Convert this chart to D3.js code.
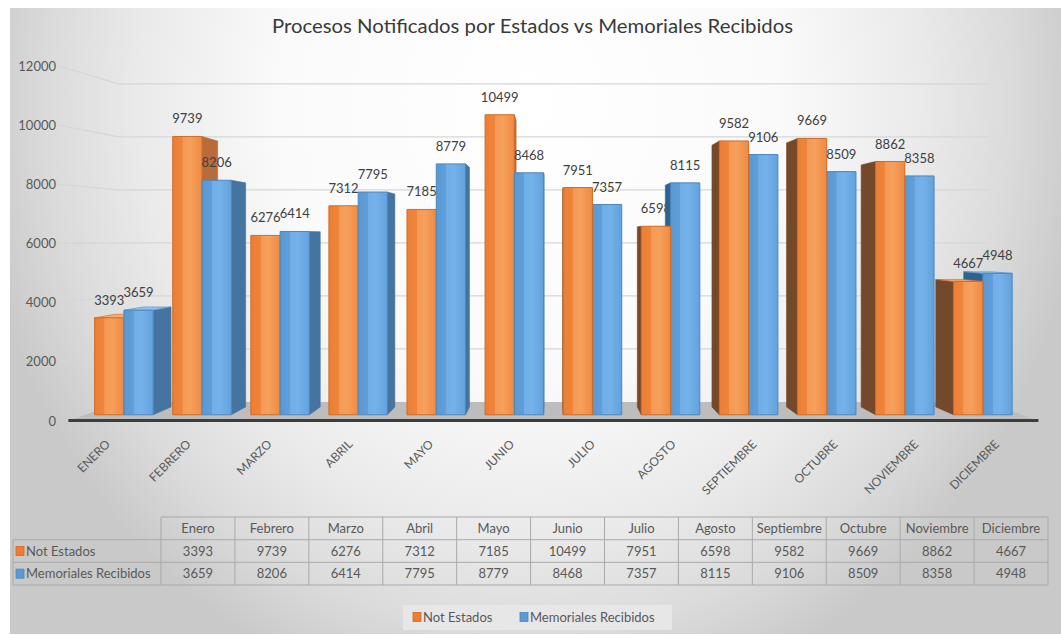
<!DOCTYPE html>
<html>
<head>
<meta charset="utf-8">
<script src="https://cdn.jsdelivr.net/npm/d3@7"></script>
<style>
  html, body { margin: 0; padding: 0; background: #ffffff; }
  svg { display: block; }
  text { font-family: Lato, "Open Sans", sans-serif; }
</style>
</head>
<body>
<svg id="chart" width="1061" height="635"></svg>
<script>
// ---------- data ----------
const months = ["Enero","Febrero","Marzo","Abril","Mayo","Junio","Julio","Agosto","Septiembre","Octubre","Noviembre","Diciembre"];
const axisLabels = ["ENERO","FEBRERO","MARZO","ABRIL","MAYO","JUNIO","JULIO","AGOSTO","SEPTIEMBRE","OCTUBRE","NOVIEMBRE","DICIEMBRE"];
const seriesNames = ["Not Estados","Memoriales Recibidos"];
const notEstados = [3393, 9739, 6276, 7312, 7185, 10499, 7951, 6598, 9582, 9669, 8862, 4667];
const memoriales = [3659, 8206, 6414, 7795, 8779, 8468, 7357, 8115, 9106, 8509, 8358, 4948];
const yTicks = [0, 2000, 4000, 6000, 8000, 10000, 12000];
const titleText = "Procesos Notificados por Estados vs Memoriales Recibidos";

const seriesValues = [notEstados, memoriales];
const colors = {
  front: ["url(#gOrange)", "url(#gBlue)"],
  stroke: ["#d36a22", "#4a86c2"],
  rightSide: ["#b86c3c", "#44749f"],
  leftSide: ["#74482a", "#30628f"],
  top: ["#f6ad72", "#94c4ee"],
  key: ["#ed7d31", "#5b9bd5"]
};

const svg = d3.select("#chart");
const defs = svg.append("defs");

// background gradient (elliptical radial)
const bg = defs.append("radialGradient").attr("id", "gBg")
  .attr("gradientUnits", "userSpaceOnUse")
  .attr("cx", 0).attr("cy", 0).attr("r", 1)
  .attr("gradientTransform", "translate(530,102) scale(560,620)");
[[0, "#ffffff"], [0.45, "#fafafa"], [0.7, "#eaeaea"], [0.86, "#dbdbdb"], [1, "#c9c9c9"]]
  .forEach(([o, c]) => bg.append("stop").attr("offset", o).attr("stop-color", c));

function barGrad(id, stops) {
  const g = defs.append("linearGradient").attr("id", id)
    .attr("x1", 0).attr("x2", 1).attr("y1", 0).attr("y2", 0);
  stops.forEach(([o, c]) => g.append("stop").attr("offset", o).attr("stop-color", c));
}
barGrad("gOrange", [[0, "#ec7e35"], [0.33, "#ef853b"], [0.34, "#f39a55"], [0.6, "#f5a05c"], [1, "#ef8a43"]]);
barGrad("gBlue", [[0, "#5a98d2"], [0.33, "#609fd9"], [0.34, "#71ade6"], [0.6, "#75b1ea"], [1, "#62a2dc"]]);

svg.append("rect").attr("x", 10).attr("y", 8).attr("width", 1060).attr("height", 626)
  .attr("fill", "url(#gBg)");

// ---------- scales & projection ----------
const x = d3.scaleBand().domain(months).range([68.4, 1038.4]).paddingInner(0.25).paddingOuter(0.125);
const xs = d3.scaleBand().domain(seriesNames).range([0, x.bandwidth()]);
const y = d3.scaleLinear().domain([0, 12000]).range([421, 66]);

const VX = 553.4, VY = 238;
const S_FRONT = 1, S_BACK = 0.896, B_FRONT = 0.966, B_BACK = 0.923;
const proj = (px, py, s) => [VX + (px - VX) * s, VY + (py - VY) * s];
const poly = pts => pts.map(p => p.join(",")).join(" ");

const [X0, X1] = x.range();

// ---------- grid ----------
const grid = svg.append("g");
yTicks.filter(t => t > 0).forEach(t => {
  const a = proj(X0 - 10, y(t), S_FRONT), b = proj(X0, y(t), S_BACK), c = proj(X1, y(t), S_BACK);
  grid.append("polyline").attr("points", poly([a, b, c]))
    .attr("fill", "none").attr("stroke", "#d6d6d6").attr("stroke-width", 1.3);
});

// floor
svg.append("polygon")
  .attr("points", poly([proj(X0, y(0), S_FRONT), proj(X1, y(0), S_FRONT), proj(X1, y(0), S_BACK), proj(X0, y(0), S_BACK)]))
  .attr("fill", "#bdbdbd");
svg.append("line")
  .attr("x1", X0).attr("x2", X1).attr("y1", y(0) - 0.5).attr("y2", y(0) - 0.5)
  .attr("stroke", "#3d3d3d").attr("stroke-width", 3);

// y labels
svg.append("g").selectAll("text").data(yTicks).join("text")
  .attr("x", 56).attr("y", d => y(d)).attr("dy", "0.35em")
  .attr("text-anchor", "end").attr("font-size", 13).attr("fill", "#595959")
  .text(d => d);

// x labels
svg.append("g").selectAll("text").data(months).join("text")
  .attr("transform", (d) => `translate(${x(d) + x.bandwidth() / 2 + 2},445) rotate(-45)`)
  .attr("text-anchor", "end").attr("font-size", 12).attr("fill", "#595959")
  .text((d, i) => axisLabels[i]);

// ---------- bars ----------
function labelPos(si, i) {
  const m = months[i];
  const x0 = x(m) + xs(seriesNames[si]);
  const p = proj(x0 + xs.bandwidth() / 2, y(seriesValues[si][i]), B_FRONT);
  return [p[0], p[1] - 13];
}
function drawLabel(g, si, i) {
  const [lx, ly] = labelPos(si, i);
  g.append("text").attr("x", lx).attr("y", ly).attr("text-anchor", "middle")
    .attr("font-size", 13).attr("fill", "#404040").text(seriesValues[si][i]);
}

const labelsBack = svg.append("g");
months.forEach((m, i) => drawLabel(labelsBack, 0, i));

const barsG = svg.append("g");
function drawBar(si, i) {
  const m = months[i];
  const v = seriesValues[si][i];
  const x0 = x(m) + xs(seriesNames[si]);
  const x1 = x0 + xs.bandwidth();
  const yt = y(v), yb = y(0);
  const g = barsG.append("g");
  if (x1 < VX) {
    g.append("polygon").attr("points", poly([proj(x1, yt, B_FRONT), proj(x1, yt, B_BACK), proj(x1, yb, B_BACK), proj(x1, yb, B_FRONT)]))
      .attr("fill", colors.rightSide[si]).attr("stroke", colors.rightSide[si]).attr("stroke-width", 0.6);
  } else if (x0 > VX) {
    g.append("polygon").attr("points", poly([proj(x0, yt, B_FRONT), proj(x0, yt, B_BACK), proj(x0, yb, B_BACK), proj(x0, yb, B_FRONT)]))
      .attr("fill", colors.leftSide[si]).attr("stroke", colors.leftSide[si]).attr("stroke-width", 0.6);
  }
  if (yt > VY) {
    g.append("polygon").attr("points", poly([proj(x0, yt, B_FRONT), proj(x1, yt, B_FRONT), proj(x1, yt, B_BACK), proj(x0, yt, B_BACK)]))
      .attr("fill", colors.top[si]).attr("stroke", colors.stroke[si]).attr("stroke-width", 0.6);
  }
  g.append("polygon").attr("points", poly([proj(x0, yt, B_FRONT), proj(x1, yt, B_FRONT), proj(x1, yb, B_FRONT), proj(x0, yb, B_FRONT)]))
    .attr("fill", colors.front[si]).attr("stroke", colors.stroke[si]).attr("stroke-width", 1);
}
months.forEach((m, i) => {
  const center = x(m) + x.bandwidth() / 2;
  const order = center < VX ? [0, 1] : [1, 0];
  order.forEach(si => drawBar(si, i));
});

const labelsFront = svg.append("g");
months.forEach((m, i) => drawLabel(labelsFront, 1, i));

// ---------- title ----------
svg.append("text").attr("x", 532.5).attr("y", 33).attr("text-anchor", "middle")
  .attr("font-size", 19.5).attr("fill", "#3a3a3a")
  .attr("textLength", 521).attr("lengthAdjust", "spacingAndGlyphs")
  .text(titleText);

// ---------- data table ----------
const tX0 = 13, tLabelR = 161, tX1 = 1048;
const colW = (tX1 - tLabelR) / months.length;
const rowY = [517, 539.7, 562.3, 585];
const tbl = svg.append("g");
const bc = "#a9a9a9";
tbl.append("line").attr("x1", tLabelR).attr("x2", tX1).attr("y1", rowY[0]).attr("y2", rowY[0]).attr("stroke", bc);
[1, 2, 3].forEach(r => tbl.append("line").attr("x1", tX0).attr("x2", tX1).attr("y1", rowY[r]).attr("y2", rowY[r]).attr("stroke", bc));
tbl.append("line").attr("x1", tX0).attr("x2", tX0).attr("y1", rowY[1]).attr("y2", rowY[3]).attr("stroke", bc);
d3.range(months.length + 1).forEach(k => {
  const xx = tLabelR + k * colW;
  tbl.append("line").attr("x1", xx).attr("x2", xx).attr("y1", rowY[0]).attr("y2", rowY[3]).attr("stroke", bc);
});
months.forEach((m, k) => {
  const cx = tLabelR + (k + 0.5) * colW;
  tbl.append("text").attr("x", cx).attr("y", (rowY[0] + rowY[1]) / 2).attr("dy", "0.35em")
    .attr("text-anchor", "middle").attr("font-size", 13).attr("fill", "#595959").text(m);
  seriesValues.forEach((vals, si) => {
    tbl.append("text").attr("x", cx).attr("y", (rowY[si + 1] + rowY[si + 2]) / 2).attr("dy", "0.35em")
      .attr("text-anchor", "middle").attr("font-size", 13).attr("fill", "#595959").text(vals[k]);
  });
});
seriesNames.forEach((n, si) => {
  const cy = (rowY[si + 1] + rowY[si + 2]) / 2;
  tbl.append("rect").attr("x", 16).attr("y", cy - 4.5).attr("width", 8).attr("height", 9)
    .attr("fill", colors.key[si]).attr("stroke", colors.stroke[si]).attr("stroke-width", 0.8);
  tbl.append("text").attr("x", 26).attr("y", cy).attr("dy", "0.35em")
    .attr("font-size", 13).attr("fill", "#595959").text(n);
});

// ---------- legend ----------
const lg = svg.append("g");
lg.append("rect").attr("x", 403).attr("y", 605).attr("width", 269).attr("height", 25).attr("fill", "#e7e7e7");
const legendX = [413, 520];
seriesNames.forEach((n, si) => {
  lg.append("rect").attr("x", legendX[si]).attr("y", 612.5).attr("width", 8).attr("height", 9)
    .attr("fill", colors.key[si]).attr("stroke", colors.stroke[si]).attr("stroke-width", 0.8);
  lg.append("text").attr("x", legendX[si] + 10).attr("y", 617).attr("dy", "0.35em")
    .attr("font-size", 13).attr("fill", "#595959").text(n);
});
</script>
</body>
</html>
